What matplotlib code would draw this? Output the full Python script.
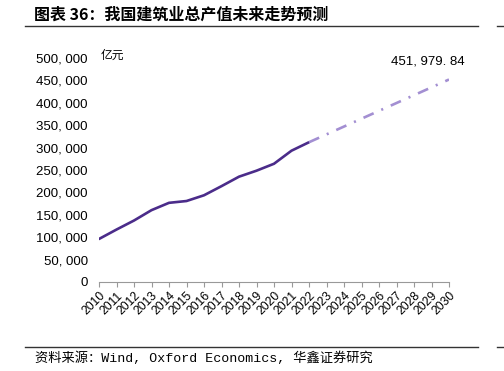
import matplotlib.pyplot as plt
import matplotlib.lines as mlines

plt.rcParams['font.family'] = ['Liberation Sans', 'Noto Sans CJK SC', 'DejaVu Sans']
plt.rcParams['lines.scale_dashes'] = False

# actual output (亿元)
years_actual = list(range(2010, 2023))
values_actual = [96031, 117060, 137218, 160366, 176713, 180757, 193567,
                 213944, 235086, 248443, 263947, 293079, 311980]

# forecast
years_forecast = list(range(2022, 2031))
values_forecast = [311980, 329500, 347000, 364500, 382000, 399500, 417000, 434500, 451979.84]

yticks = list(range(0, 500001, 50000))

fig = plt.figure(figsize=(5.04, 3.71), dpi=100)
ax = fig.add_axes([99 / 504, 1 - 282 / 371, 350 / 504, 224 / 371])

ax.plot(years_actual, values_actual, color='#4B2C8A', linewidth=1.9,
        solid_capstyle='round')
ax.plot(years_forecast, values_forecast, color='#A38FD2', linewidth=1.9,
        linestyle=(0, (8, 6, 1.5, 6)))

ax.set_xlim(2010, 2030)
ax.set_ylim(0, 500000)
ax.set_xticks(range(2010, 2031))
ax.set_xticklabels([str(y) for y in range(2010, 2031)], rotation=45,
                   fontsize=8.7, ha='right', va='top', rotation_mode='anchor')
ax.set_yticks(yticks)
ax.set_yticklabels([f"{v:,}".replace(",", ", ") for v in yticks], fontsize=9.5)

for s in ['left', 'top', 'right']:
    ax.spines[s].set_visible(False)
ax.spines['bottom'].set_color('#999999')
ax.spines['bottom'].set_linewidth(0.8)
ax.tick_params(axis='y', length=0, pad=8)
ax.tick_params(axis='x', length=3.5, color='#999999', width=0.8, pad=2)
ax.patch.set_alpha(0)

last = values_forecast[-1]
ax.annotate(f"{last:,.2f}".replace(",", ", ").replace(".", ". "),
            xy=(years_forecast[-1], last), xytext=(-15, 13),
            textcoords='offset points', ha='center', va='center', fontsize=9.5)

fig.text(101 / 504, 1 - 55 / 371, '亿元', fontsize=8.5, va='center',
         family=['Noto Sans CJK SC'])

fig.text(34 / 504, 1 - 15 / 371, '图表 36：我国建筑业总产值未来走势预测',
         fontsize=11.5, fontweight='bold', va='center',
         family=['Noto Sans CJK SC', 'DejaVu Sans'])
fig.add_artist(mlines.Line2D([25 / 504, 478 / 504], [1 - 26 / 371] * 2,
                             color='#333333', linewidth=1.0))
fig.add_artist(mlines.Line2D([497 / 504, 1.0], [1 - 26 / 371] * 2,
                             color='#333333', linewidth=1.0))

fig.add_artist(mlines.Line2D([25 / 504, 478 / 504], [1 - 347 / 371] * 2,
                             color='#333333', linewidth=1.0))
fig.add_artist(mlines.Line2D([497 / 504, 1.0], [1 - 347 / 371] * 2,
                             color='#333333', linewidth=1.0))
fig.text(35 / 504, 1 - 358 / 371, '资料来源：Wind, Oxford Economics, 华鑫证券研究',
         fontsize=9.5, va='center',
         family=['Liberation Mono', 'Noto Sans CJK SC', 'DejaVu Sans'])

fig.savefig('out.png', dpi=100)
